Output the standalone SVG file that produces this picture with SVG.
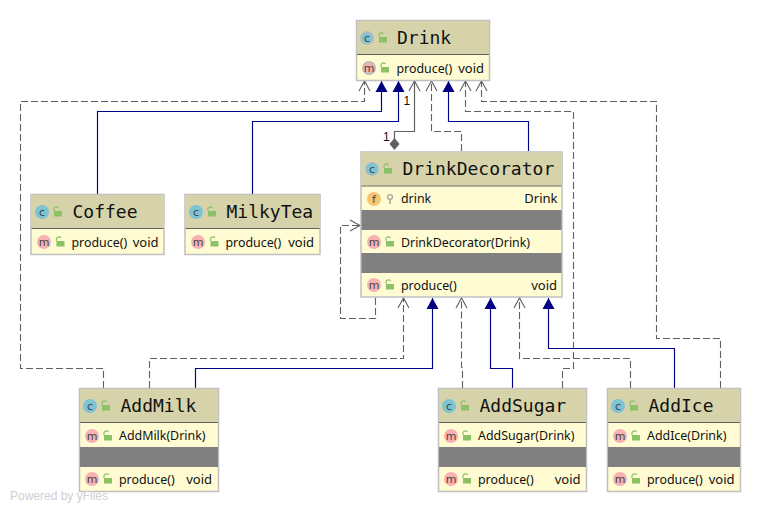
<svg xmlns="http://www.w3.org/2000/svg" width="762" height="512" viewBox="0 0 762 512">
<style>
.box{fill:#fffbd2;stroke:#c0c0c0;stroke-width:1.5}
.hd{fill:#d6d3aa}
.sep{stroke:#606060;stroke-width:1.2}
.gr{fill:#808080}
.t{font:18px "DejaVu Sans Mono",monospace;fill:#111}
.r{font:12.4px "Noto Sans","Open Sans",sans-serif;fill:#111}
.v{font:13px "Noto Sans","Open Sans",sans-serif;fill:#111;text-anchor:end}
.ci{font:11px "DejaVu Sans",sans-serif;fill:#444;text-anchor:middle}
.c1{fill:#7cc3d3}.m1{fill:#f9b0b0}.f1{fill:#f8c471}
.lk{fill:#8cc265}
.lks{fill:none;stroke:#8cc265;stroke-width:1.2}
.dash,.solid,.inh{fill:none}
.dash{stroke:#606060;stroke-width:1.1;stroke-dasharray:7 3;marker-end:url(#open)}
.solid{stroke:#606060;stroke-width:1.2;marker-end:url(#open)}
.inh{stroke:#000080;stroke-width:1.15;marker-end:url(#tri)}
.lbl{font:12px "Liberation Sans",Arial,sans-serif;fill:#111}
</style>
<defs>
<marker id="tri" markerUnits="userSpaceOnUse" markerWidth="14" markerHeight="14" viewBox="-12 -7 14 14" refX="0" refY="0" orient="auto"><path d="M0 0L-11 -6V6Z" fill="#000080"/></marker>
<marker id="open" markerUnits="userSpaceOnUse" markerWidth="14" markerHeight="14" viewBox="-12 -7 14 14" refX="0" refY="0" orient="auto"><path d="M-10 -5.500L0 0L-10 5.500" fill="none" stroke="#606060" stroke-width="1.1"/></marker>
<g id="lock"><rect x="-3" y="-1" width="8" height="5.500" class="lk"/><path d="M-3 -1V-3.500A2.500 2.500 0 0 1 1.500 -4" class="lks"/></g>
<g id="key"><circle cx="0" cy="-2" r="2.400" fill="none" stroke="#aaa" stroke-width="1.400"/><path d="M0 0V5" stroke="#aaa" stroke-width="1.600"/></g>
</defs>
<rect width="762" height="512" fill="#fff"/>
<g id="connectors">
<path class="dash" d="M103.500 388V368.500H20.500V101.500H364.500V81"/>
<path class="inh" d="M97.500 194V111.500H381.500V81"/>
<path class="inh" d="M252.500 194V121.500H398.500V81"/>
<path class="solid" d="M394.500 140V131.500H414.500V81"/>
<path d="M394.500 138L399.500 144L394.500 150L389.500 144Z" fill="#606060"/>
<path class="dash" d="M461.500 151V131.500H431.500V81"/>
<path class="inh" d="M528.500 151V121.500H448.500V81"/>
<path class="dash" d="M562.500 388V368.500H573.500V111.500H465.500V81"/>
<path class="dash" d="M720.500 388V338.500H656.500V101.500H481.500V81"/>
<path class="dash" d="M375.500 298V318.500H340.500V225.500H360"/>
<path class="dash" d="M149.500 388V358.500H403.500V298"/>
<path class="inh" d="M195.500 388V368.500H432.500V298"/>
<path class="dash" d="M462.500 388V368L461.500 367V298"/>
<path class="inh" d="M512.500 388V368.500H490.500V298"/>
<path class="dash" d="M630.500 388V358.500H519.500V298"/>
<path class="inh" d="M674.500 388V348.500H548.500V298"/>
<text class="lbl" x="403.500" y="105">1</text>
<text class="lbl" x="383" y="141">1</text>
</g>
<g id="Drink">
<rect class="box" x="356.500" y="20.500" width="133" height="60"/>
<rect class="hd" x="357" y="21" width="132" height="33"/>
<path class="sep" d="M357 54.500H489"/>
<circle cx="367" cy="38" r="7" fill="#bbb"/><circle class="c1" cx="367" cy="38" r="5.500"/><text class="ci" x="367" y="41.500">c</text>
<use href="#lock" x="382" y="38"/>
<text class="t" x="397" y="44">Drink</text>
<circle cx="369" cy="68" r="7" fill="#bbb"/><circle class="m1" cx="369" cy="68" r="5"/><text class="ci" x="369" y="71.500">m</text>
<use href="#lock" x="384" y="68"/>
<text class="r" x="396.500" y="72.500">produce()</text><text class="v" x="484" y="72.500">void</text>
</g>
<g id="DrinkDecorator">
<rect class="box" x="361" y="152" width="201" height="145"/>
<rect class="hd" x="361.500" y="152.500" width="200" height="33"/>
<path class="sep" d="M361.500 186H561.500"/>
<rect class="gr" x="361.500" y="210" width="200" height="20"/>
<rect class="gr" x="361.500" y="253" width="200" height="20"/>
<circle cx="372" cy="169" r="7" fill="#bbb"/><circle class="c1" cx="372" cy="169" r="6"/><text class="ci" x="372" y="172.500">c</text>
<use href="#lock" x="387" y="169"/>
<text class="t" x="402.500" y="175">DrinkDecorator</text>
<circle class="f1" cx="374" cy="199" r="7"/><text class="ci" x="374" y="202.500">f</text>
<use href="#key" x="390" y="199"/>
<text class="r" x="401" y="203">drink</text><text class="v" x="557.500" y="203">Drink</text>
<circle class="m1" cx="374" cy="242" r="7"/><text class="ci" x="374" y="245.500">m</text>
<use href="#lock" x="389" y="242"/>
<text class="r" x="401" y="246.500">DrinkDecorator(Drink)</text>
<circle class="m1" cx="374" cy="285" r="7"/><text class="ci" x="374" y="288.500">m</text>
<use href="#lock" x="389" y="285"/>
<text class="r" x="401" y="289.500">produce()</text><text class="v" x="557" y="289.500">void</text>
</g>
<g id="Coffee">
<rect class="box" x="31" y="194.500" width="133" height="60"/>
<rect class="hd" x="31.500" y="195" width="132" height="33"/>
<path class="sep" d="M31.500 228.500H163.500"/>
<circle class="c1" cx="42" cy="212" r="7"/><text class="ci" x="42" y="215.500">c</text>
<use href="#lock" x="57" y="212"/>
<text class="t" x="72.500" y="218">Coffee</text>
<circle class="m1" cx="44" cy="242" r="7"/><text class="ci" x="44" y="245.500">m</text>
<use href="#lock" x="59.500" y="242"/>
<text class="r" x="71.500" y="246.500">produce()</text><text class="v" x="158.500" y="246.500">void</text>
</g>
<g id="MilkyTea">
<rect class="box" x="185" y="194.500" width="135" height="60"/>
<rect class="hd" x="185.500" y="195" width="134" height="33"/>
<path class="sep" d="M185.500 228.500H319.500"/>
<circle class="c1" cx="196" cy="212" r="7"/><text class="ci" x="196" y="215.500">c</text>
<use href="#lock" x="211" y="212"/>
<text class="t" x="226.500" y="218">MilkyTea</text>
<circle class="m1" cx="198" cy="242" r="7"/><text class="ci" x="198" y="245.500">m</text>
<use href="#lock" x="213.500" y="242"/>
<text class="r" x="225.500" y="246.500">produce()</text><text class="v" x="314" y="246.500">void</text>
</g>
<g id="AddMilk">
<rect class="box" x="79.500" y="388.500" width="139" height="103"/>
<rect class="hd" x="80" y="389" width="138" height="33"/>
<path class="sep" d="M80 422.500H218"/>
<rect class="gr" x="80" y="447" width="138" height="20"/>
<circle class="c1" cx="90" cy="406" r="7"/><text class="ci" x="90" y="409.500">c</text>
<use href="#lock" x="105" y="406"/>
<text class="t" x="120.500" y="412">AddMilk</text>
<circle class="m1" cx="92" cy="436" r="7"/><text class="ci" x="92" y="439.500">m</text>
<use href="#lock" x="107" y="436"/>
<text class="r" x="119" y="440">AddMilk(Drink)</text>
<circle class="m1" cx="92" cy="479" r="7"/><text class="ci" x="92" y="482.500">m</text>
<use href="#lock" x="107" y="479"/>
<text class="r" x="119" y="483.500">produce()</text><text class="v" x="212" y="483.500">void</text>
</g>
<g id="AddSugar">
<rect class="box" x="438.500" y="388.500" width="148" height="103"/>
<rect class="hd" x="439" y="389" width="147" height="33"/>
<path class="sep" d="M439 422.500H586"/>
<rect class="gr" x="439" y="447" width="147" height="20"/>
<circle class="c1" cx="449" cy="406" r="7"/><text class="ci" x="449" y="409.500">c</text>
<use href="#lock" x="464" y="406"/>
<text class="t" x="479.500" y="412">AddSugar</text>
<circle class="m1" cx="451" cy="436" r="7"/><text class="ci" x="451" y="439.500">m</text>
<use href="#lock" x="466" y="436"/>
<text class="r" x="478" y="440">AddSugar(Drink)</text>
<circle class="m1" cx="451" cy="479" r="7"/><text class="ci" x="451" y="482.500">m</text>
<use href="#lock" x="466" y="479"/>
<text class="r" x="478" y="483.500">produce()</text><text class="v" x="580.500" y="483.500">void</text>
</g>
<g id="AddIce">
<rect class="box" x="607.500" y="388.500" width="133" height="103"/>
<rect class="hd" x="608" y="389" width="132" height="33"/>
<path class="sep" d="M608 422.500H740"/>
<rect class="gr" x="608" y="447" width="132" height="20"/>
<circle class="c1" cx="618" cy="406" r="7"/><text class="ci" x="618" y="409.500">c</text>
<use href="#lock" x="633" y="406"/>
<text class="t" x="648.500" y="412">AddIce</text>
<circle class="m1" cx="620" cy="436" r="7"/><text class="ci" x="620" y="439.500">m</text>
<use href="#lock" x="635" y="436"/>
<text class="r" x="647" y="440">AddIce(Drink)</text>
<circle class="m1" cx="620" cy="479" r="7"/><text class="ci" x="620" y="482.500">m</text>
<use href="#lock" x="635" y="479"/>
<text class="r" x="647" y="483.500">produce()</text><text class="v" x="734.500" y="483.500">void</text>
</g>
<text x="10" y="500" font-family="'Liberation Sans',Arial,sans-serif" font-size="12" fill="#cfcfcf" textLength="98">Powered by yFiles</text>
</svg>
